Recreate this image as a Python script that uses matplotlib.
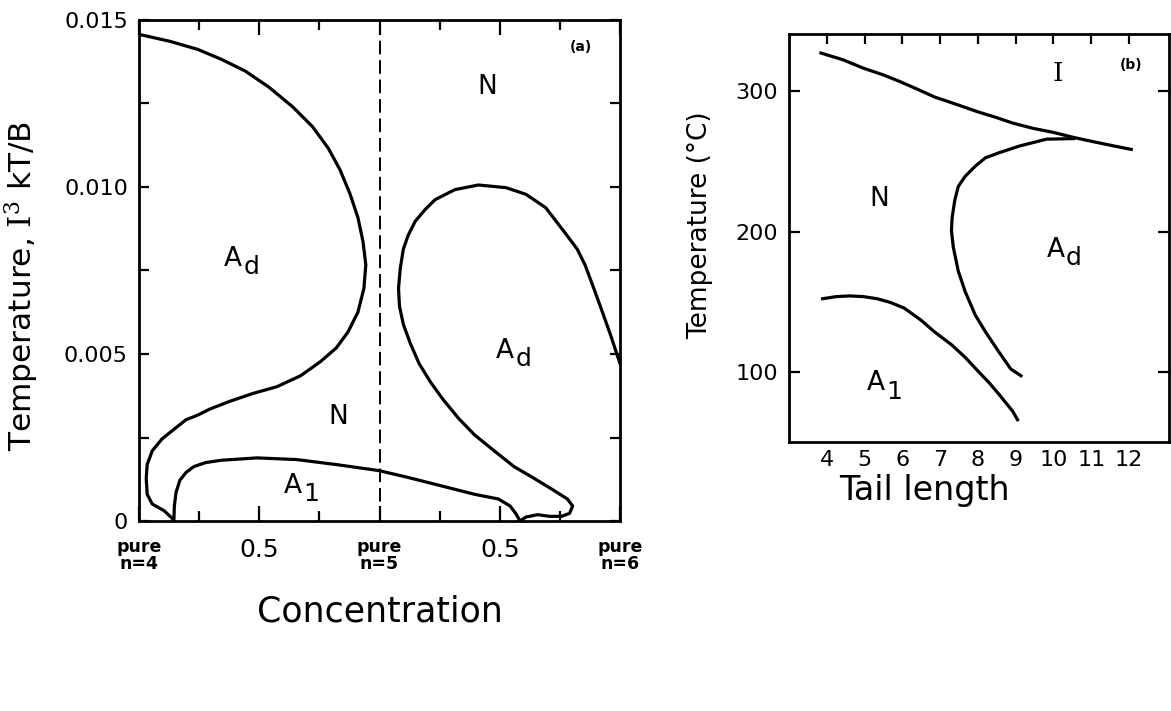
import matplotlib
matplotlib.use("Agg")
import matplotlib.pyplot as plt
from matplotlib.ticker import FixedLocator

plt.rcParams['font.family'] = ['DejaVu Sans']
plt.rcParams['mathtext.fontset'] = 'custom'
plt.rcParams['mathtext.rm'] = 'DejaVu Serif'
plt.rcParams['mathtext.sf'] = 'DejaVu Sans'
plt.rcParams['mathtext.it'] = 'DejaVu Sans:italic'
plt.rcParams['mathtext.bf'] = 'DejaVu Sans:bold'

# ---------------- Panel (a) data ----------------
# left A_d / N boundary (pure n=4 side)
ad_left_x = [0.006, 0.129, 0.244, 0.343, 0.442, 0.540, 0.639, 0.721, 0.787, 0.836,
             0.877, 0.910, 0.931, 0.943, 0.935, 0.910, 0.869, 0.820, 0.754, 0.672,
             0.573, 0.474, 0.376, 0.294, 0.244, 0.195, 0.146, 0.096, 0.055, 0.034,
             0.030, 0.034, 0.055, 0.104, 0.137, 0.145]
ad_left_y = [0.01456, 0.01436, 0.01412, 0.01382, 0.01347, 0.01299, 0.01240, 0.01181,
             0.01116, 0.01051, 0.00980, 0.00909, 0.00838, 0.00767, 0.00696, 0.00625,
             0.00566, 0.00518, 0.00477, 0.00435, 0.00402, 0.00382, 0.00358, 0.00335,
             0.00317, 0.00303, 0.00275, 0.00246, 0.00210, 0.00169, 0.00128, 0.00080,
             0.00051, 0.00031, 0.00009, 0.0]

# A_1 dome continuing into right A_d loop
a1_ad_right_x = [0.145, 0.147, 0.154, 0.170, 0.195, 0.228, 0.277, 0.343, 0.491, 0.655,
                 0.820, 0.997, 1.116, 1.231, 1.395, 1.494, 1.543, 1.568, 1.584, 1.609,
                 1.658, 1.707, 1.757, 1.790, 1.803, 1.781, 1.724, 1.642, 1.559, 1.477,
                 1.395, 1.329, 1.264, 1.211, 1.165, 1.129, 1.099, 1.083, 1.079, 1.086,
                 1.099, 1.119, 1.148, 1.189, 1.231, 1.313, 1.411, 1.526, 1.609, 1.691,
                 1.773, 1.822, 1.855, 1.888, 1.921, 1.962, 2.0]
a1_ad_right_y = [0.0, 0.00045, 0.00086, 0.00122, 0.00145, 0.00163, 0.00175, 0.00182,
                 0.00189, 0.00184, 0.00169, 0.00151, 0.00131, 0.00110, 0.00080, 0.00066,
                 0.00045, 0.00021, 0.0, 0.00012, 0.00019, 0.00014, 0.00014, 0.00023,
                 0.00045, 0.00066, 0.00092, 0.00128, 0.00163, 0.00210, 0.00258, 0.00307,
                 0.00364, 0.00417, 0.00471, 0.00530, 0.00589, 0.00643, 0.00696, 0.00755,
                 0.00814, 0.00855, 0.00897, 0.00932, 0.00962, 0.00992, 0.01006, 0.00998,
                 0.00978, 0.00938, 0.00861, 0.00814, 0.00766, 0.00702, 0.00637, 0.00554,
                 0.00471]

pure_line_x = 1.0
a_xticks = [0.0, 0.5, 1.0, 1.5, 2.0]
a_xticklabels = ["pure\nn=4", "0.5", "pure\nn=5", "0.5", "pure\nn=6"]
a_xminor = [0.25, 0.75, 1.25, 1.75]
a_yticks = [0.0, 0.005, 0.010, 0.015]
a_yticklabels = ["0", "0.005", "0.010", "0.015"]
a_yminor = [0.0025, 0.0075, 0.0125]

# ---------------- Panel (b) data ----------------
ni_x = [3.846, 4.43, 4.97, 5.51, 5.95, 6.40, 6.85, 7.39, 8.02, 8.47, 8.92, 9.46,
        10.0, 10.54, 11.07, 11.61, 12.06]
ni_y = [327.4, 322.6, 316.6, 311.7, 306.9, 301.6, 296.1, 291.2, 285.3, 281.6, 277.5,
        273.7, 270.8, 267.2, 264.1, 261.1, 258.7]

nad_x = [10.54, 9.82, 9.10, 8.56, 8.20, 7.93, 7.66, 7.48, 7.39, 7.32, 7.30, 7.35,
         7.48, 7.66, 7.93, 8.20, 8.56, 8.87, 9.14]
nad_y = [266.4, 266.0, 261.1, 256.3, 252.7, 246.7, 239.4, 232.2, 222.6, 210.5, 200.9,
         188.8, 172.0, 157.5, 140.6, 128.6, 114.1, 102.1, 97.3]

na1_x = [3.89, 4.25, 4.61, 4.97, 5.33, 5.69, 6.05, 6.49, 6.85, 7.30, 7.66, 8.02,
         8.29, 8.56, 8.74, 8.92, 9.05]
na1_y = [152.2, 153.7, 154.2, 153.7, 152.2, 149.5, 145.5, 137.0, 128.6, 119.4, 110.5,
         100.1, 92.5, 84.0, 78.0, 72.0, 65.9]

b_xticks = [4, 5, 6, 7, 8, 9, 10, 11, 12]
b_yticks = [100, 200, 300]

LW = 2.3
fig = plt.figure(figsize=(11.71, 7.11), dpi=100)

def phase_label(ax, x, y, base, sub, size):
    ax.text(x, y, base, ha='center', va='center', fontsize=size)
    if sub:
        ax.annotate(sub, xy=(x, y), xytext=(size * 0.40, -size * 0.32),
                    textcoords='offset points', ha='left', va='center',
                    fontsize=size * 0.95)

# ---------------- Panel (a) ----------------
axa = fig.add_axes([0.1187, 0.2672, 0.4108, 0.7047])
axa.plot(ad_left_x, ad_left_y, color='black', lw=LW, solid_joinstyle='round')
axa.plot(a1_ad_right_x, a1_ad_right_y, color='black', lw=LW, solid_joinstyle='round')
axa.axvline(pure_line_x, color='black', lw=1.4, ls=(0, (7, 3)))
axa.set_xlim(0, 2)
axa.set_ylim(0, 0.015)
axa.xaxis.set_major_locator(FixedLocator(a_xticks))
axa.set_xticklabels(a_xticklabels)
axa.xaxis.set_minor_locator(FixedLocator(a_xminor))
axa.yaxis.set_major_locator(FixedLocator(a_yticks))
axa.set_yticklabels(a_yticklabels)
axa.yaxis.set_minor_locator(FixedLocator(a_yminor))
axa.tick_params(axis='both', which='both', direction='in', top=True, right=True,
                width=1.6, color='black')
axa.tick_params(axis='x', which='major', length=11, pad=12)
axa.tick_params(axis='x', which='minor', length=7)
axa.tick_params(axis='y', which='both', length=7, labelsize=16, pad=8)
for lab, txt in zip(axa.get_xticklabels(), a_xticklabels):
    if txt.startswith("pure"):
        lab.set_fontsize(12.5)
        lab.set_fontweight('bold')
        lab.set_linespacing(0.95)
    else:
        lab.set_fontsize(18)
for sp in axa.spines.values():
    sp.set_linewidth(2.0)
axa.set_ylabel(r"Temperature, $\mathrm{I}^3$ kT/B", fontsize=22.5)
axa.yaxis.set_label_coords(-0.206, 0.469)
axa.set_xlabel("Concentration", fontsize=25)
axa.xaxis.set_label_coords(0.5, -0.146)
axa.text(1.836, 0.0142, "(a)", fontsize=10, fontweight='bold', ha='center', va='center')
axa.text(1.447, 0.0130, "N", fontsize=19, ha='center', va='center')
axa.text(0.83, 0.00311, "N", fontsize=19, ha='center', va='center')
phase_label(axa, 0.39, 0.00785, "A", "d", 19)
phase_label(axa, 1.52, 0.0051, "A", "d", 19)
phase_label(axa, 0.64, 0.00105, "A", "1", 19)

# ---------------- Panel (b) ----------------
axb = fig.add_axes([0.6738, 0.3783, 0.3245, 0.5739])
axb.plot(ni_x, ni_y, color='black', lw=LW, solid_joinstyle='round')
axb.plot(nad_x, nad_y, color='black', lw=LW, solid_joinstyle='round')
axb.plot(na1_x, na1_y, color='black', lw=LW, solid_joinstyle='round')
axb.set_xlim(3, 13.06)
axb.set_ylim(50, 341)
axb.set_xticks(b_xticks)
axb.set_yticks(b_yticks)
axb.tick_params(axis='x', which='both', direction='in', bottom=False, top=True,
                labelbottom=True, length=7, width=1.6, labelsize=16, pad=6)
axb.tick_params(axis='y', which='both', direction='in', left=True, right=True,
                length=8, width=1.6, labelsize=16, pad=8)
for sp in axb.spines.values():
    sp.set_linewidth(2.0)
axb.set_ylabel("Temperature (°C)", fontsize=19)
axb.yaxis.set_label_coords(-0.20, 0.532)
axb.set_xlabel("Tail length", fontsize=24)
axb.xaxis.set_label_coords(0.357, -0.078)
axb.text(12.06, 319, "(b)", fontsize=10, fontweight='bold', ha='center', va='center')
axb.text(10.11, 313, "I", fontsize=19, family='DejaVu Serif', ha='center', va='center')
axb.text(5.4, 223.6, "N", fontsize=19, ha='center', va='center')
phase_label(axb, 10.05, 187, "A", "d", 19)
phase_label(axb, 5.3, 92, "A", "1", 19)

fig.savefig("out.png", dpi=100)
